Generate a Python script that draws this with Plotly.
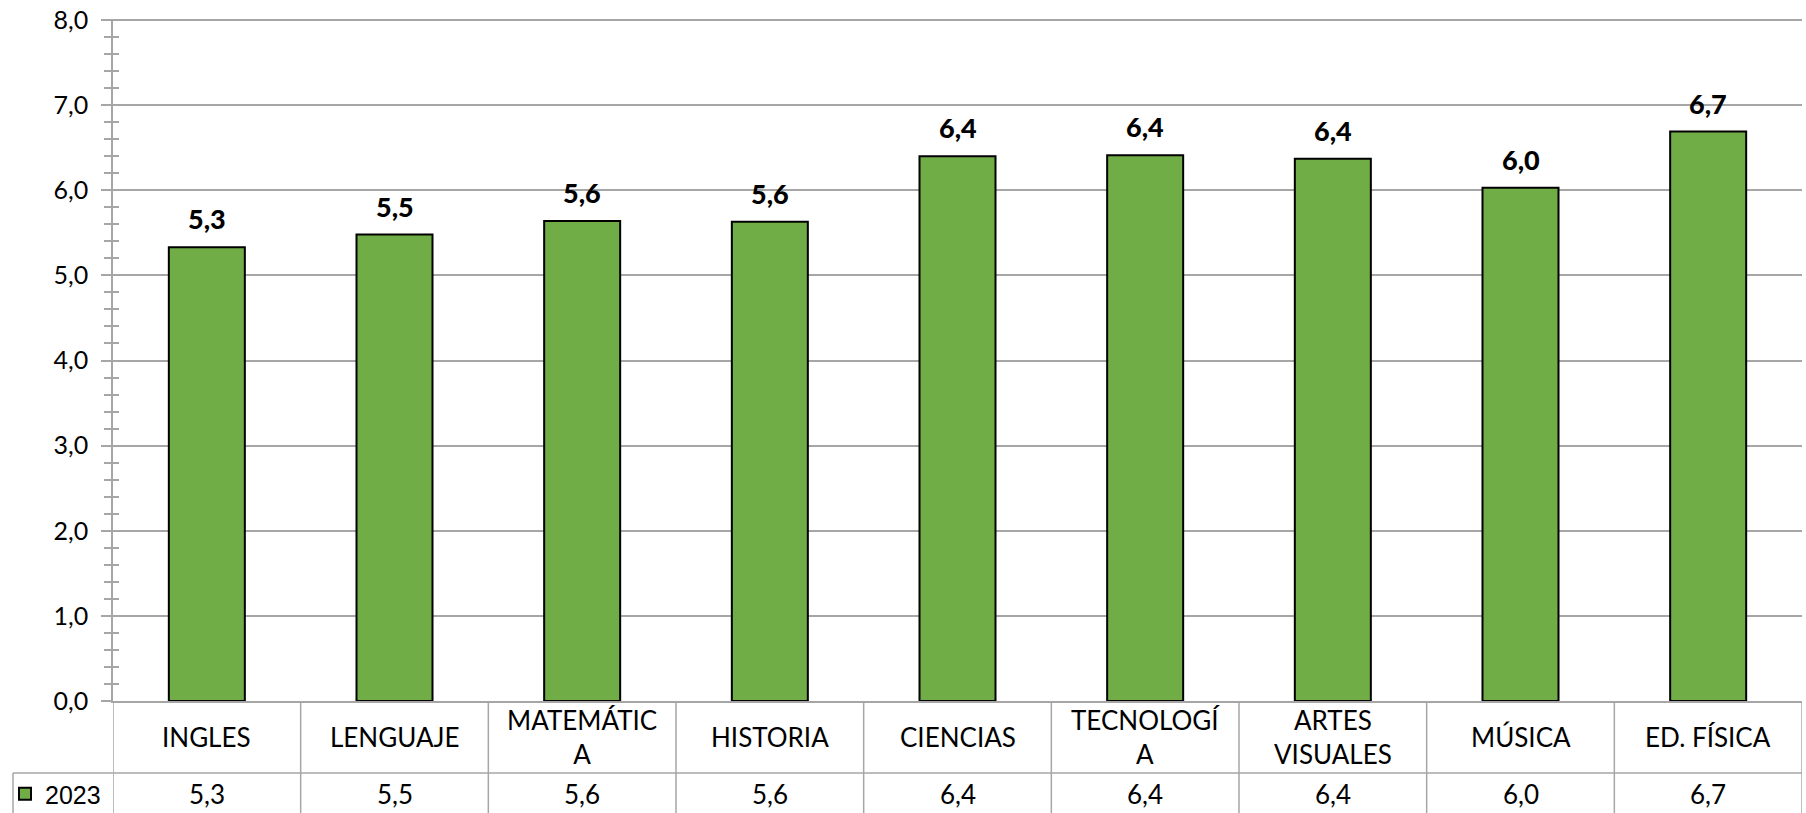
import plotly.graph_objects as go

categories = ["INGLES", "LENGUAJE", "MATEMÁTICA", "HISTORIA", "CIENCIAS",
              "TECNOLOGÍA", "ARTES VISUALES", "MÚSICA", "ED. FÍSICA"]
category_labels = ["INGLES", "LENGUAJE", "MATEMÁTIC<br>A", "HISTORIA", "CIENCIAS",
                   "TECNOLOGÍ<br>A", "ARTES<br>VISUALES", "MÚSICA", "ED. FÍSICA"]
values_2023 = [5.33, 5.48, 5.64, 5.63, 6.40, 6.41, 6.37, 6.03, 6.69]
series_name = "2023"
y_ticks = [0, 1, 2, 3, 4, 5, 6, 7, 8]

FONT = "Lato"
GREEN = "#70AD47"
GRID = "#A6A6A6"
W, H = 1806, 813
ML, MR, MT, MB = 113, 4, 19, 112
plot_h = H - MT - MB
plot_w = W - ML - MR
Y_MAX = 8.012  # tiny headroom so the top gridline is drawn

def py(px_from_axis_bottom):
    # convert pixel offset below the x axis to paper coords
    return -px_from_axis_bottom / plot_h

def fmt(v):
    return f"{v:.1f}".replace(".", ",")

fig = go.Figure()
fig.add_trace(go.Bar(
    x=categories, y=values_2023, name=series_name,
    marker=dict(color=GREEN, line=dict(color="black", width=2)),
    width=0.405, showlegend=True,
))
# helper empty trace for overlay axis with inner minor ticks
fig.add_trace(go.Scatter(x=[], y=[], yaxis="y2", showlegend=False, hoverinfo="skip"))

# data labels above bars
for c, v in zip(categories, values_2023):
    fig.add_annotation(x=c, y=v, xref="x", yref="y", text=fmt(v),
                       showarrow=False, yanchor="bottom", yshift=10,
                       font=dict(family=FONT, size=27, color="black", weight=900))

row1_c = py(36)
row2_c = py(93)
row_sep = py(72)
bottom = py(140)

# table text
for c, lab, v in zip(categories, category_labels, values_2023):
    fig.add_annotation(x=c, y=row1_c, xref="x", yref="paper", text=lab,
                       showarrow=False, yanchor="middle",
                       font=dict(family=FONT, size=26, color="black"))
    fig.add_annotation(x=c, y=row2_c, xref="x", yref="paper", text=fmt(v),
                       showarrow=False, yanchor="middle",
                       font=dict(family=FONT, size=26, color="black"))

# table lines
n = len(categories)
line_style = dict(color=GRID, width=1.5)
for i in range(n + 1):
    fig.add_shape(type="line", xref="x", yref="paper", x0=i - 0.5, x1=i - 0.5,
                  y0=0, y1=bottom, line=line_style)
fig.add_shape(type="line", xref="x", yref="paper", x0=-0.5, x1=n - 0.5,
              y0=row_sep, y1=row_sep, line=line_style)
leg_left = -(ML - 13) / plot_w
fig.add_shape(type="line", xref="paper", yref="paper", x0=leg_left, x1=0,
              y0=row_sep, y1=row_sep, line=line_style)
fig.add_shape(type="line", xref="paper", yref="paper", x0=leg_left, x1=leg_left,
              y0=row_sep, y1=bottom, line=line_style)

fig.update_layout(
    width=W, height=H,
    margin=dict(l=ML, r=MR, t=MT, b=MB, pad=0, autoexpand=False),
    plot_bgcolor="white", paper_bgcolor="white",
    separators=", ",
    bargap=0.6,
    showlegend=True,
    legend=dict(x=-(ML - 5) / plot_w, y=row2_c, xanchor="left", yanchor="middle",
                font=dict(family="Liberation Sans", size=25, color="black"),
                bgcolor="rgba(0,0,0,0)", itemwidth=30, tracegroupgap=0,
                borderwidth=0),
    xaxis=dict(range=[-0.5, n - 0.5], showticklabels=False, ticks="",
               showline=True, linecolor=GRID, linewidth=1.5, showgrid=False,
               zeroline=False),
    yaxis=dict(range=[0, Y_MAX], tickvals=y_ticks, tickformat=".1f",
               showgrid=True, gridcolor=GRID, gridwidth=1.5,
               showline=True, linecolor=GRID, linewidth=1.5,
               ticks="outside", ticklen=10, tickcolor=GRID, tickwidth=1.5,
               minor=dict(dtick=0.2, ticks="outside", ticklen=7, tickcolor=GRID,
                          tickwidth=1.5, showgrid=False),
               zeroline=False, ticklabelstandoff=8, ticklabeloverflow="allow",
               tickfont=dict(family=FONT, size=25, color="black")),
    yaxis2=dict(range=[0, Y_MAX], overlaying="y", side="left", showgrid=False,
                showticklabels=False, showline=False, zeroline=False,
                dtick=0.2, ticks="inside", ticklen=6, tickcolor=GRID, tickwidth=1.5),
)

fig.write_html(
    "out.html",
    config={"displayModeBar": False},
    post_script="document.body.style.margin='0';document.body.style.overflow='hidden';",
)
